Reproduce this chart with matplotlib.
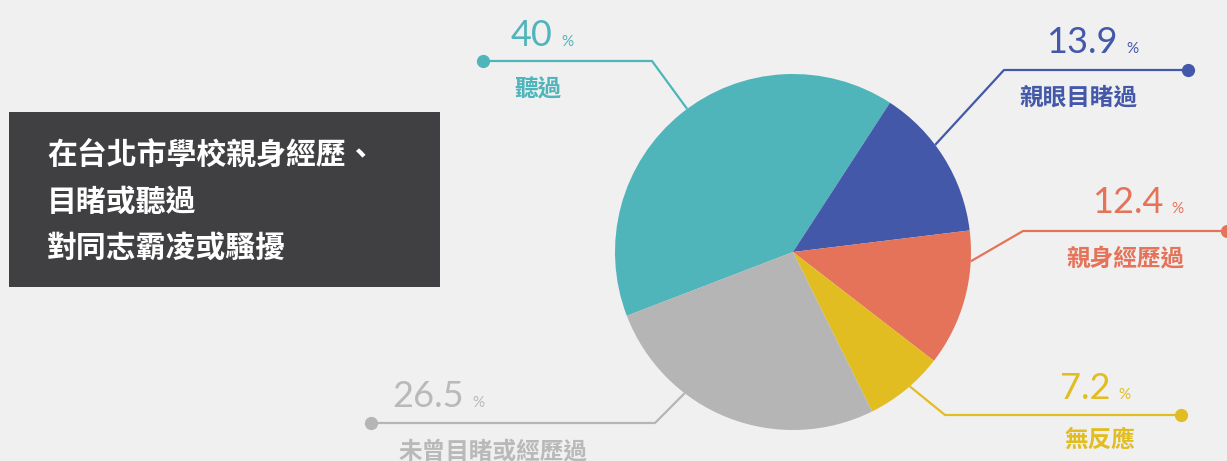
import numpy as np
import matplotlib
matplotlib.use("Agg")
import matplotlib.pyplot as plt

# ---- data ----
categories = ["聽過", "親眼目睹過", "親身經歷過", "無反應", "未曾目睹或經歷過"]
values = [40, 13.9, 12.4, 7.2, 26.5]
colors = ["#4fb5bb", "#4358a8", "#e5735a", "#e2bd22", "#b4b5b4"]
title_lines = ["在台北市學校親身經歷、", "目睹或聽過", "對同志霸凌或騷擾"]

# ---- layout (pixel coords, origin top-left) ----
W, H = 1227, 461
cx, cy, R = 793, 252, 178
layout = {
    "聽過":           dict(ang=126.5, ex=652,  ly=61,  dx=483,  nx=553,  ny=46,  tx=538,  ty=89),
    "親眼目睹過":     dict(ang=37,    ex=1004, ly=70,  dx=1188, nx=1118, ny=53,  tx=1078, ty=97),
    "親身經歷過":     dict(ang=-3,    ex=1023, ly=231, dx=1227, nx=1163, ny=213, tx=1125, ty=258),
    "無反應":         dict(ang=-49,   ex=945,  ly=415, dx=1181, nx=1110, ny=399, tx=1100, ty=440),
    "未曾目睹或經歷過": dict(ang=232.5, ex=655,  ly=423, dx=371,  nx=464,  ny=407, tx=493,  ty=451),
}
text_colors = {"未曾目睹或經歷過": "#b9b9b9"}

BG = "#f0f0f0"
CJK = ["Noto Sans CJK TC", "DejaVu Sans"]
NUM = ["Lato", "DejaVu Sans"]

def Y(y):
    return H - y

fig = plt.figure(figsize=(W / 100, H / 100), dpi=100, facecolor=BG)
ax = fig.add_axes([0, 0, 1, 1])
ax.set_facecolor(BG)

# pie: clockwise, 聽過 starting at ~201 deg
start = 57 + 360 * values[0] / 100.0
ax.pie(values, colors=colors, startangle=start, counterclock=False,
       center=(cx, Y(cy)), radius=R, wedgeprops=dict(linewidth=0))
ax.set_xlim(0, W)
ax.set_ylim(0, H)
ax.set_aspect("equal")
ax.axis("off")

# title box
ax.add_patch(plt.Rectangle((9, Y(287)), 431, 175, facecolor="#404042", edgecolor="none", zorder=1))
for i, line in enumerate(title_lines):
    ax.text(47, Y(156 + 46 * i), line, color="white", fontsize=21.5, fontweight="bold",
            family=CJK, ha="left", va="center", zorder=2)

# leader lines and labels
for cat, val, col in zip(categories, values, colors):
    L = layout[cat]
    a = np.deg2rad(L["ang"])
    px, py = cx + R * np.cos(a), Y(cy) + R * np.sin(a)
    ax.plot([px, L["ex"], L["dx"]], [py, Y(L["ly"]), Y(L["ly"])], color=col, lw=1.6,
            solid_capstyle="butt", zorder=3, clip_on=False)
    ax.plot([L["dx"]], [Y(L["ly"])], "o", color=col, markersize=8.5, zorder=4, clip_on=False)
    tc = text_colors.get(cat, col)
    ax.text(L["nx"], Y(L["ny"]), f"{val:g}", color=tc, fontsize=26, fontweight="normal",
            family=NUM, ha="right", va="baseline")
    ax.text(L["nx"] + 8, Y(L["ny"]), "%", color=tc, fontsize=11, fontweight="normal",
            family=NUM, ha="left", va="baseline")
    ax.text(L["tx"], Y(L["ty"]), cat, color=tc, fontsize=17, fontweight="bold",
            family=CJK, ha="center", va="center")

fig.savefig("out.png", dpi=100, facecolor=BG)
